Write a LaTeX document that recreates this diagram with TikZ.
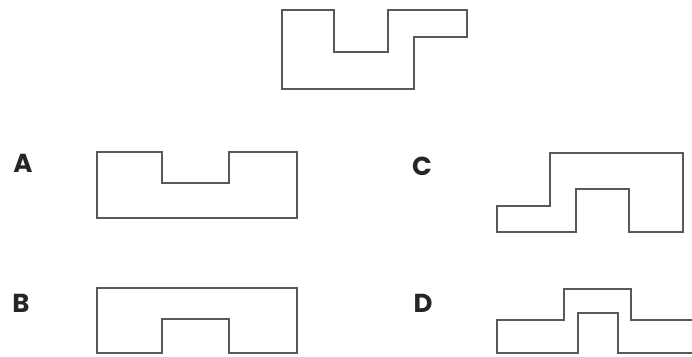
\documentclass[tikz,border=0pt]{standalone}
\usepackage{fontspec}
\newfontfamily\choicefont{Poppins}
\begin{document}
\begin{tikzpicture}[x=1pt, y=-1pt,
    outline/.style={draw=black!65, line width=1.3pt, line join=miter},
    choice/.style={font=\choicefont\fontsize{26}{28}\selectfont\bfseries, text=black!85, inner sep=0pt}]
  \useasboundingbox (0,0) rectangle (692,356);
  % question shape
  \draw [outline] (282,10) -- (334,10) -- (334,52) -- (388,52) -- (388,10)
    -- (467,10) -- (467,37) -- (414,37) -- (414,89) -- (282,89) -- cycle;
  % answer A
  \node [choice] (labA) at (23,163) {A};
  \draw [outline] (97,152) -- (162,152) -- (162,183) -- (229,183)
    -- (229,152) -- (297,152) -- (297,218) -- (97,218) -- cycle;
  % answer B
  \node [choice] (labB) at (21,303) {B};
  \draw [outline] (97,288) -- (297,288) -- (297,353) -- (229,353)
    -- (229,319) -- (162,319) -- (162,353) -- (97,353) -- cycle;
  % answer C
  \node [choice] (labC) at (422,166) {C};
  \draw [outline] (550,153) -- (683,153) -- (683,232) -- (629,232)
    -- (629,189) -- (576,189) -- (576,232) -- (497,232) -- (497,206)
    -- (550,206) -- cycle;
  % answer D (runs off the right edge)
  \node [choice] (labD) at (423,303) {D};
  \draw [outline] (693,320) -- (631,320) -- (631,289) -- (564,289)
    -- (564,320) -- (497,320) -- (497,353) -- (578,353) -- (578,313)
    -- (618,313) -- (618,353) -- (693,353);
\end{tikzpicture}
\end{document}
